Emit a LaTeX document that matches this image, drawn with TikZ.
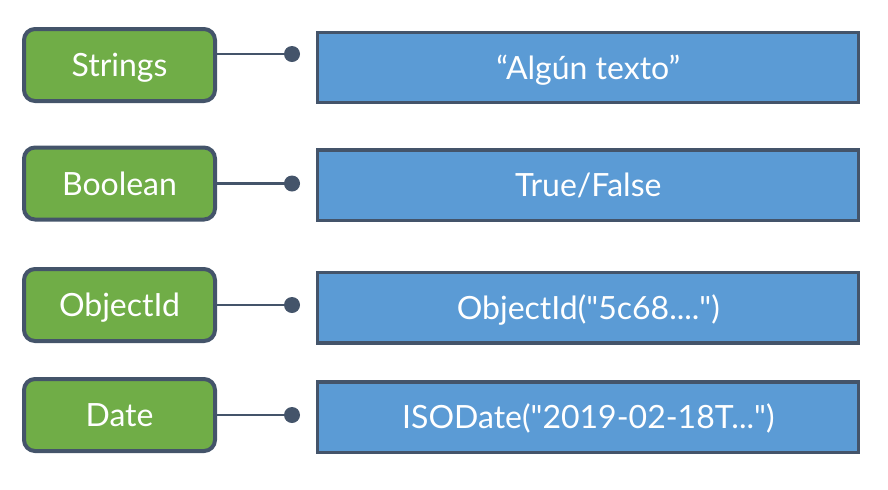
\documentclass[tikz,border=0pt]{standalone}
\usepackage{fontspec}
\setmainfont{Lato}
\definecolor{typegreen}{HTML}{70AD47}
\definecolor{valueblue}{HTML}{5B9BD5}
\definecolor{edgegray}{HTML}{44546A}
\tikzset{
	typebox/.style={draw=edgegray,fill=typegreen,line width=2pt,rounded corners=5.5pt,
		minimum width=95.5pt,minimum height=36pt,inner sep=0pt,text=white,
		font=\fontsize{16}{19}\selectfont,text height=11.5pt,text depth=0pt},
	valuebox/.style={draw=edgegray,fill=valueblue,line width=1.65pt,
		minimum width=270.5pt,minimum height=35.25pt,inner sep=0pt,text=white,
		font=\fontsize{16}{19}\selectfont,text height=11.5pt,text depth=0pt},
	link/.style={draw=edgegray,line width=1.35pt}
}
\begin{document}
\begin{tikzpicture}[x=0.5pt,y=-0.5pt]
		\useasboundingbox (0,0) rectangle (888,489);
		% data types
		\node[typebox] (str) at (119.5,65) {Strings};
		\node[typebox] (bool) at (119.5,183.5) {Boolean};
		\node[typebox] (oid) at (119.5,305) {ObjectId};
		\node[typebox] (date) at (119.5,415) {Date};
		% sample values
		\node[valuebox] (strval) at (588.3,67.5) {“Algún texto”};
		\node[valuebox] (boolval) at (588.3,185.3) {True/False};
		\node[valuebox] (oidval) at (588.3,307.8) {ObjectId(\textquotedbl5c68....\textquotedbl)};
		\node[valuebox] (dateval) at (588.3,417.3) {ISODate(\textquotedbl2019-02-18T...\textquotedbl)};
		\foreach \t/\y in {str/54,bool/183.5,oid/305,date/415}{
			\coordinate (\t_dot) at (292,\y);
			\draw[link] (\t_dot -| \t.east) -- (\t_dot);
			\fill[edgegray] (\t_dot) circle (4pt);
		}
	\end{tikzpicture}
\end{document}
